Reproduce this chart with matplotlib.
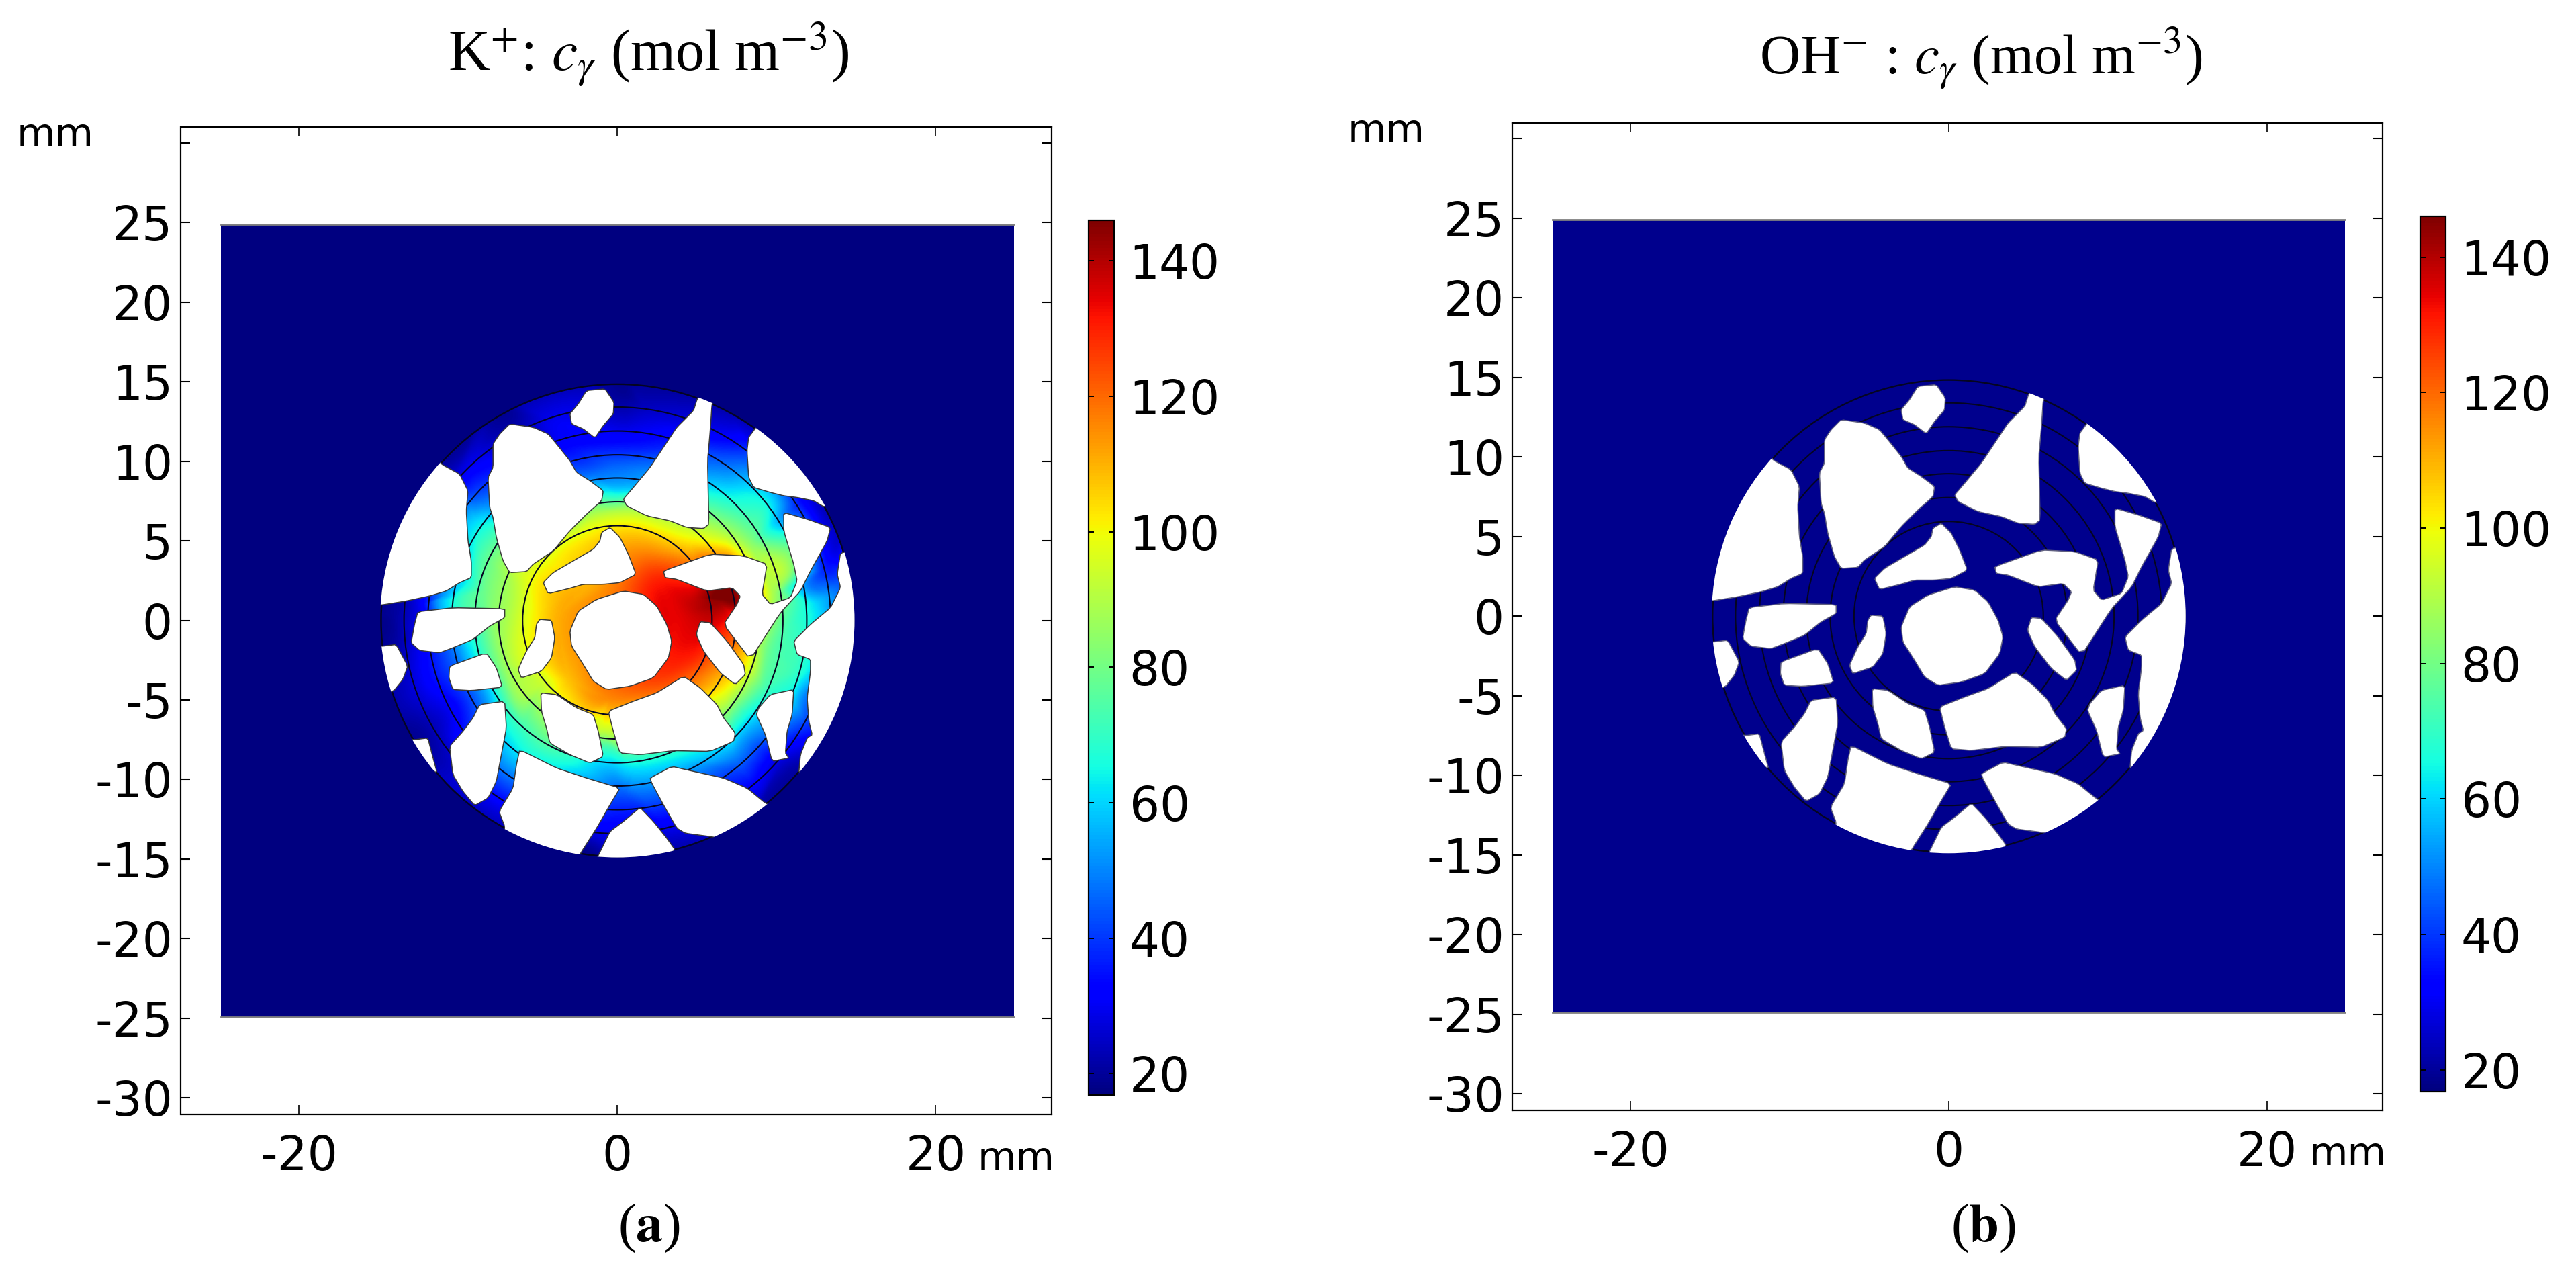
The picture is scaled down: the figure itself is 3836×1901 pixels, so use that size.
import matplotlib
matplotlib.use('Agg')
import matplotlib.pyplot as plt
import matplotlib.tri as mtri
import numpy as np
from matplotlib.colors import Normalize
from matplotlib.patches import Circle, Polygon, Rectangle
from matplotlib.cm import ScalarMappable

W, H = 3837, 1901

plt.rcParams['font.family'] = ['DejaVu Sans']
plt.rcParams['mathtext.fontset'] = 'stix'
plt.rcParams['axes.unicode_minus'] = False

x_ticks = [-20, 0, 20]
x_labels = ['-20', '0', '20']
y_ticks = [-30, -25, -20, -15, -10, -5, 0, 5, 10, 15, 20, 25, 30]
y_labels = ['-30', '-25', '-20', '-15', '-10', '-5', '0', '5', '10', '15', '20', '25', '']
cbar_ticks = [20, 40, 60, 80, 100, 120, 140]
c_min, c_max = 16.86, 146.0

grid_cx, grid_cy, grid_per_mm = 782, 768, 47.64

holes = [
    [(690,80),(745,75),(772,115),(770,150),(740,185),(715,222),(680,195),(645,180),(640,150),(665,120)],
    [(460,180),(530,190),(575,210),(600,240),(640,290),(660,325),(700,350),(740,380),(735,410),(690,450),(640,500),(590,560),(530,600),(510,622),(460,625),(440,590),(420,520),(410,460),(400,430),(395,340),(410,310),(410,240),(430,210)],
    [(1020,108),(1030,90),(1070,110),(1065,125),(1060,200),(1052,290),(1056,480),(1040,493),(990,490),(940,470),(870,455),(810,425),(800,405),(830,370),(880,310),(940,220),(960,190),(1010,140)],
    [(1190,200),(1210,170),(1340,260),(1440,420),(1400,428),(1370,410),(1320,400),(1280,395),(1240,385),(1190,370),(1175,340),(1170,260),(1175,220)],
    [(258,302),(310,330),(335,380),(330,440),(335,530),(345,590),(345,640),(310,655),(270,680),(220,695),(150,710),(75,722),(50,722),(50,500),(150,350),(240,280)],
    [(185,742),(290,730),(445,733),(445,760),(400,785),(350,825),(290,850),(250,865),(190,858),(165,835),(175,780)],
    [(80,845),(120,840),(155,905),(140,945),(112,980),(60,990),(60,845)],
    [(280,905),(390,865),(420,910),(438,968),(345,978),(290,975),(278,940)],
    [(370,1020),(445,1010),(450,1090),(435,1170),(420,1250),(395,1300),(355,1322),(320,1280),(290,1230),(280,1145),(320,1100),(350,1060)],
    [(175,1125),(215,1120),(228,1170),(243,1225),(200,1200),(140,1120)],
    [(490,1155),(600,1210),(690,1240),(790,1270),(760,1320),(720,1390),(672,1465),(650,1510),(440,1420),(445,1385),(428,1340),(470,1270),(480,1200)],
    [(850,1328),(890,1370),(930,1420),(955,1455),(900,1510),(700,1510),(725,1472),(760,1400),(800,1370)],
    [(945,1205),(1010,1220),(1100,1240),(1170,1270),(1225,1315),(1260,1330),(1150,1430),(1060,1415),(985,1405),(960,1390),(920,1320),(885,1255),(880,1240)],
    [(755,1040),(830,1010),(900,985),(980,935),(1030,970),(1080,1020),(1100,1060),(1135,1105),(1130,1130),(1060,1160),(950,1158),(850,1170),(790,1165),(770,1100)],
    [(553,985),(600,990),(660,1030),(710,1050),(725,1100),(740,1175),(700,1195),(640,1170),(580,1135),(570,1090),(555,1040)],
    [(800,680),(860,690),(900,725),(930,780),(945,830),(935,880),(890,940),(820,965),(750,975),(710,950),(680,900),(645,845),(640,800),(665,740),(720,705)],
    [(760,490),(790,520),(815,570),(838,630),(790,655),(740,660),(680,660),(640,672),(575,688),(560,655),(590,625),(650,590),(710,555),(730,530),(735,505)],
    [(550,765),(585,768),(595,820),(585,880),(555,920),(495,940),(485,915),(510,860),(535,820),(540,780)],
    [(1030,772),(1060,775),(1110,830),(1160,900),(1165,930),(1135,960),(1090,925),(1040,860),(1018,810)],
    [(1205,1030),(1240,990),(1310,975),(1305,1050),(1290,1100),(1285,1165),(1295,1180),(1245,1190),(1225,1110),(1198,1050)],
    [(1450,565),(1440,630),(1450,670),(1420,730),(1360,780),(1310,830),(1320,870),(1360,885),(1360,920),(1350,1000),(1355,1070),(1365,1110),(1350,1120),(1330,1170),(1325,1225),(1400,1260),(1540,800),(1510,560)],
    [(920,620),(1060,570),(1160,575),(1230,600),(1215,690),(1240,720),(1300,700),(1320,650),(1310,600),(1280,500),(1280,445),(1350,465),(1420,490),(1410,530),(1360,620),(1330,680),(1270,745),(1180,885),(1100,780),(1140,720),(1150,695),(1125,670),(1050,680),(960,645),(925,640)],
]

# colour of the left panel read as concentration at these spots: (x, y, c)
field_samples = [
    (1090,720,142),(1130,700,146),(1000,700,137),(980,760,135),(1000,880,130),(950,850,132),
    (900,650,130),(850,560,115),(790,520,108),(1000,530,102),(760,670,116),(700,660,110),
    (620,700,110),(600,760,110),(600,900,108),(640,950,108),(760,1000,116),(900,950,125),
    (1050,920,118),(1100,960,104),(1170,900,100),(1230,850,80),(1290,790,73),(1340,800,68),
    (1380,720,60),(1430,690,50),(1460,640,40),(1410,570,32),(1400,620,38),(1350,660,50),
    (1100,500,88),(1180,540,85),(1290,620,88),(1250,690,88),(1140,430,70),(1230,400,62),
    (1100,370,60),(1100,290,45),(1100,220,32),(1130,160,24),(1340,410,32),(1390,440,26),
    (1340,1000,50),(1350,1080,40),(1300,1000,62),(1330,920,68),(1220,980,72),(1180,1060,62),
    (1170,1120,52),(1120,1220,42),(1200,1270,30),(1270,1200,26),(1300,1130,35),
    (800,440,90),(780,400,70),(780,370,57),(780,300,45),(810,230,33),(880,150,26),(800,100,20),
    (720,450,90),(650,530,100),(560,590,98),(620,240,32),(700,330,47),(600,170,30),(450,170,20),
    (530,650,100),(540,740,102),(470,680,90),(390,680,80),(310,700,70),(250,710,55),(190,720,30),(110,770,20),
    (290,330,26),(350,300,30),(370,400,45),(360,480,62),(380,580,75),(330,660,65),(270,690,55),
    (200,960,30),(140,1000,24),(220,1100,22),(300,1030,33),(340,1000,42),(390,990,55),(340,870,60),
    (300,860,50),(440,1000,72),(440,900,85),(480,1000,85),(500,1090,72),(440,1170,55),(430,1250,42),(410,1330,28),
    (750,1150,72),(740,1090,95),(730,1060,100),(720,1020,112),(830,1210,62),(830,1260,52),(800,1300,42),(730,1400,30),(700,1450,20),
    (560,950,95),(560,1150,72),(950,1190,62),(1130,1180,50),(940,1400,28),(1270,1100,45),
    # rim, just beyond the last circle
    (782,-10,17),(1150,80,17),(1480,400,20),(1560,768,22),(1480,1150,20),(1150,1450,18),(782,1546,17),(400,1450,17),(60,1150,17),(10,768,17),(60,400,17),(400,80,17),
]

ring_radii = [5.95, 7.45, 8.95, 10.4, 11.9, 13.4]
rim_radius = 14.84
square_half = 24.9
c_outer_left = 17.0
c_all_right = 18.5


def to_mm(pts):
    pts = np.array(pts, dtype=float)
    return np.column_stack([(pts[:, 0] - grid_cx) / grid_per_mm, (grid_cy - pts[:, 1]) / grid_per_mm])


def round_corners(pts, cut=0.1):
    # the outlines in the picture are blurred, no hard corners
    nxt = np.roll(pts, -1, axis=0)
    return np.column_stack([(1 - cut) * pts + cut * nxt, cut * pts + (1 - cut) * nxt]).reshape(-1, 2)


def px_box(x0, y0, x1, y1):
    return [x0 / W, 1 - y1 / H, (x1 - x0) / W, (y1 - y0) / H]


fig = plt.figure(figsize=(W / 100, H / 100), dpi=100, facecolor='white')
norm = Normalize(c_min, c_max)
cmap = plt.get_cmap('jet')

# field from the read spots
samples = np.array(field_samples, dtype=float)
sx, sy = to_mm(samples[:, :2]).T
tri = mtri.Triangulation(sx, sy)
interp = mtri.CubicTriInterpolator(tri, samples[:, 2], kind='geom')
gx, gy = np.meshgrid(np.linspace(-15.2, 15.2, 700), np.linspace(-15.2, 15.2, 700))
field = np.clip(np.ma.filled(interp(gx, gy), c_min), c_min, c_max)


def panel(box, cbar_box, c_fill, with_field, edge):
    ax = fig.add_axes(px_box(*box))
    ax.set_xlim(-27.41, 27.28)
    ax.set_ylim(-31.04, 31.0)
    ax.add_patch(Rectangle((-square_half, -square_half), 2 * square_half, 2 * square_half,
                           facecolor=cmap(norm(c_fill)), edgecolor='none', zorder=1))
    ax.plot([-square_half, square_half], [square_half, square_half], color='#808080', lw=2, zorder=1)
    ax.plot([-square_half, square_half], [-square_half, -square_half], color='#808080', lw=2, zorder=1)
    circle = Circle((0, 0), rim_radius, facecolor='none', edgecolor='#050520', lw=1.7, zorder=3)
    ax.add_patch(circle)
    if with_field:
        im = ax.imshow(field, extent=(-15.2, 15.2, -15.2, 15.2), origin='lower', cmap=cmap, norm=norm,
                       interpolation='bilinear', aspect='auto', zorder=2)
        im.set_clip_path(Circle((0, 0), rim_radius, transform=ax.transData))
    for r in ring_radii:
        ax.add_patch(Circle((0, 0), r, facecolor='none', edgecolor='#050520', lw=1.5, zorder=3))
    clip = Circle((0, 0), rim_radius + 0.06, transform=ax.transData)
    for h in holes:
        p = Polygon(round_corners(to_mm(h)), closed=True, facecolor='white', edgecolor=edge, lw=1.1, zorder=4)
        ax.add_patch(p)
        p.set_clip_path(clip)
    ax.set_xticks(x_ticks)
    ax.set_xticklabels(x_labels)
    ax.set_yticks(y_ticks)
    ax.set_yticklabels(y_labels)
    ax.tick_params(axis='x', direction='in', top=True, length=10, width=1.2, pad=21, labelsize=51)
    ax.tick_params(axis='y', direction='in', right=True, length=10, width=1.5, pad=9, labelsize=51)
    for s in ax.spines.values():
        s.set_linewidth(1.6)

    cax = fig.add_axes(px_box(*cbar_box))
    cb = fig.colorbar(ScalarMappable(norm=norm, cmap=cmap), cax=cax)
    cb.set_ticks(cbar_ticks)
    cb.outline.set_linewidth(1.6)
    cax.tick_params(direction='in', left=True, right=True, labelleft=False, labelright=True,
                    length=6, width=1.4, pad=16, labelsize=51)
    return ax


panel((269.5, 189, 1566, 1659), (1621.5, 328, 1659.5, 1630), c_outer_left, True, '#3a3a3a')
panel((2252.5, 182.7, 3548, 1652.7), (3604, 322, 3642.5, 1624.5), c_all_right, False, '#606080')


def label(x, y, s, **kw):
    fig.text(x / W, 1 - y / H, s, va='baseline', **kw)


label(25, 218, 'mm', fontsize=42.5)
label(2007, 212, 'mm', fontsize=42.5)
label(1456, 1742, 'mm', fontsize=42.5)
label(3439, 1735, 'mm', fontsize=42.5)

label(667, 105, r'K$^{+}$: $c_{\gamma}$ (mol m$^{-3}$)', fontsize=62, family='Liberation Serif')
label(2620, 110, r'OH$^{-}$ : $c_{\gamma}$ (mol m$^{-3}$)', fontsize=60, family='Liberation Serif')
label(920, 1848, r'($\mathbf{a}$)', fontsize=58, family='Liberation Serif')
label(2905, 1848, r'($\mathbf{b}$)', fontsize=58, family='Liberation Serif')

fig.savefig('out.png', dpi=100)
